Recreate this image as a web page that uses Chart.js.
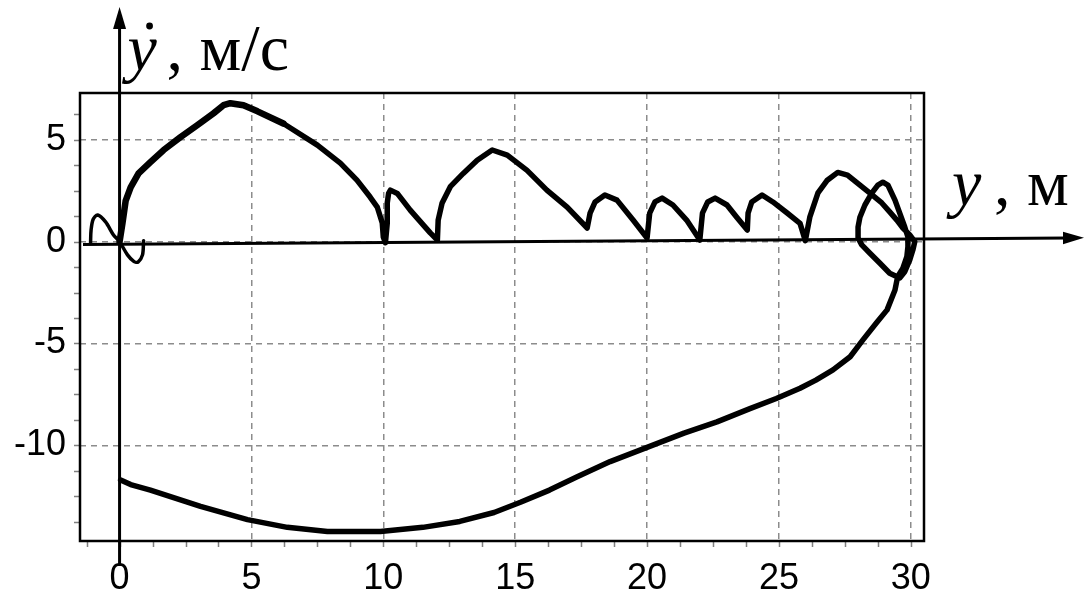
<!DOCTYPE html>
<html>
<head>
<meta charset="utf-8">
<script src="https://cdn.jsdelivr.net/npm/chart.js@4.4.1/dist/chart.umd.min.js"></script>
<style>
  body { margin: 0; background: #fff; }
  #wrap { width: 1089px; height: 600px; }
</style>
</head>
<body>
<div id="wrap"><canvas id="phaseChart"></canvas></div>
<script>
// phase trajectory: position y (m) and velocity dy/dt (m/s)
const pathY = [
    0, 0.11, 0.23, 0.42, 0.72, 1.17, 1.67, 2.31, 2.95, 3.56, 3.94, 4.2, 4.7, 5.23, 6.21, 7.5, 8.37, 9.0, 9.5, 9.77,
    9.96, 10.0, 10.08, 10.15, 10.15, 10.2, 10.27, 10.53, 11.02, 11.78,
    12.05, 12.08, 12.23, 12.54, 13.03, 13.56, 14.13, 14.7, 15.45, 16.2, 16.97,
    17.73, 17.84, 18.03, 18.4, 18.86, 19.47,
    20.0, 20.1, 20.3, 20.57, 20.98, 21.5,
    22.0, 22.1, 22.3, 22.58, 23.03, 23.4,
    23.8, 23.83, 23.97, 24.36, 24.77, 25.3, 25.8,
    26.0, 26.17, 26.48, 26.82, 27.23, 27.6, 28.45, 28.9, 29.2, 29.47, 29.7, 29.96, 30.15,
    30.08, 29.96, 29.77, 29.58, 29.2, 28.83, 28.45, 28.14, 28.0, 28.0, 28.07, 28.26, 28.52, 28.75, 28.94,
    29.13, 29.4, 29.58, 29.77, 29.89, 29.89, 29.85, 29.7, 29.5,
    29.4, 29.1, 28.7, 28.2, 27.7, 27.05, 26.4, 25.8, 24.9, 23.9, 22.65, 21.4, 20.0, 18.6, 17.35,
    16.3, 15.2, 14.2, 12.9, 11.5, 9.89, 7.88, 6.36, 4.85, 3.07, 1.17, 0.42, 0.04
];
const pathV = [
    0, 0.9, 2.0, 2.67, 3.35, 3.9, 4.5, 5.13, 5.72, 6.3, 6.7, 6.8, 6.7, 6.4, 5.8, 4.74, 3.86, 3.02, 2.19, 1.7,
    0.92, 0.23, -0.05, 0.92, 1.9, 2.37, 2.53, 2.37, 1.55, 0.43,
    0.08, 1.06, 1.9, 2.7, 3.35, 4.0, 4.5, 4.25, 3.5, 2.53, 1.7,
    0.67, 1.4, 1.95, 2.29, 2.04, 1.06,
    0.18, 1.4, 1.95, 2.14, 1.8, 1.06,
    0.08, 1.4, 1.95, 2.14, 1.8, 1.2,
    0.57, 1.4, 1.95, 2.29, 1.95, 1.42, 0.9,
    0.05, 1.2, 2.4, 3.0, 3.4, 3.27, 2.38, 1.9, 1.46, 1.06, 0.67, 0.33, 0,
    -0.4, -0.9, -1.48, -1.78, -1.55, -1.06, -0.57, -0.16, 0.18, 0.72, 1.2, 1.8, 2.38, 2.78, 2.92,
    2.78, 2.04, 1.4, 0.72, 0.23, -0.25, -0.74, -1.3, -1.72,
    -2.37, -3.35, -3.98, -4.8, -5.65, -6.3, -6.8, -7.2, -7.7, -8.2, -8.85, -9.4, -10.1, -10.8, -11.55,
    -12.2, -12.8, -13.3, -13.74, -14.03, -14.23, -14.23, -14.03, -13.65, -13.0, -12.2, -11.93, -11.7
];

// small oscillation around the origin
const wiggleY = [-1.1, -1.08, -1.0, -0.83, -0.53, -0.23, 0, 0.3, 0.55, 0.7, 0.87, 0.91];
const wiggleV = [-0.05, 0.57, 1.1, 1.31, 0.97, 0.33, 0, -0.65, -0.98, -1.0, -0.65, 0.05];

const xTicks = [0, 5, 10, 15, 20, 25, 30];
const yTicks = [-10, -5, 0, 5];

const toPoints = (xs, ys) => xs.map((v, i) => ({ x: v, y: ys[i] }));

// frame, minor tick marks, arrowed axes and axis titles
const phaseDecor = {
    id: 'phaseDecor',
    afterDraw(chart) {
        const { ctx, chartArea: a } = chart;
        const sx = chart.scales.x, sy = chart.scales.y;
        ctx.save();

        // tick marks every 1.25
        ctx.strokeStyle = '#808080';
        ctx.lineWidth = 1.5;
        ctx.beginPath();
        for (let k = Math.ceil(sx.min / 1.25); k * 1.25 <= sx.max; k++) {
            const px = Math.round(sx.getPixelForValue(k * 1.25)) + 0.5;
            ctx.moveTo(px, a.bottom);
            ctx.lineTo(px, a.bottom + 6);
        }
        for (let k = Math.ceil(sy.min / 1.25); k * 1.25 <= sy.max; k++) {
            const py = Math.round(sy.getPixelForValue(k * 1.25)) + 0.5;
            ctx.moveTo(a.left, py);
            ctx.lineTo(a.left - 6, py);
        }
        ctx.stroke();

        // frame
        ctx.strokeStyle = '#000';
        ctx.lineWidth = 2.5;
        ctx.strokeRect(a.left, a.top, a.right - a.left, a.bottom - a.top);

        // vertical axis with arrow
        const x0 = sx.getPixelForValue(0);
        const y0 = sy.getPixelForValue(0);
        ctx.lineWidth = 3;
        ctx.beginPath();
        ctx.moveTo(x0, 566);
        ctx.lineTo(x0, 24);
        ctx.stroke();
        ctx.fillStyle = '#000';
        ctx.beginPath();
        ctx.moveTo(x0, 7);
        ctx.lineTo(x0 - 6.5, 29);
        ctx.lineTo(x0 + 6.5, 29);
        ctx.closePath();
        ctx.fill();

        // horizontal axis with arrow (slightly tilted, as in the source)
        ctx.beginPath();
        ctx.moveTo(a.left + 3, y0 + 2.8);
        ctx.lineTo(1068, y0 - 3.6);
        ctx.stroke();
        ctx.beginPath();
        ctx.moveTo(1084, y0 - 3.8);
        ctx.lineTo(1063, y0 - 10);
        ctx.lineTo(1063, y0 + 2.5);
        ctx.closePath();
        ctx.fill();

        // axis titles
        ctx.fillStyle = '#000';
        ctx.textBaseline = 'alphabetic';
        ctx.textAlign = 'left';
        ctx.font = 'italic 66px "Liberation Serif"';
        ctx.fillText('y', x0 + 8, 70);
        ctx.beginPath();
        ctx.arc(x0 + 30, 26, 3.4, 0, Math.PI * 2);
        ctx.fill();
        ctx.font = '66px "Liberation Serif"';
        ctx.fillText(',', x0 + 47, 70);
        ctx.fillText('м/с', x0 + 80, 70);

        ctx.font = 'italic 66px "Liberation Serif"';
        ctx.fillText('y', 952, 205);
        ctx.font = '66px "Liberation Serif"';
        ctx.fillText(',', 994, 205);
        ctx.fillText('м', 1027, 205);

        ctx.restore();
    }
};

const ctxPhase = document.getElementById('phaseChart');

new Chart(ctxPhase, {
    type: 'scatter',
    data: {
        datasets: [
            {
                label: 'trajectory',
                data: toPoints(pathY, pathV),
                showLine: true,
                borderColor: '#000',
                borderWidth: 5.5,
                pointRadius: 0,
                tension: 0,
                borderJoinStyle: 'round',
                borderCapStyle: 'round',
                segment: {
                    borderWidth: ctx => ctx.p0DataIndex < 14 ? 6.5 : 5.5
                }
            },
            {
                label: 'oscillation',
                data: toPoints(wiggleY, wiggleV),
                showLine: true,
                borderColor: '#000',
                borderWidth: 3.5,
                pointRadius: 0,
                tension: 0.3,
                borderJoinStyle: 'round',
                borderCapStyle: 'round'
            }
        ]
    },
    plugins: [phaseDecor],
    options: {
        responsive: true,
        maintainAspectRatio: false,
        animation: false,
        layout: {
            padding: { top: 93, right: 165, left: 0, bottom: 0 }
        },
        plugins: {
            legend: { display: false },
            tooltip: { enabled: false }
        },
        scales: {
            x: {
                type: 'linear',
                min: -1.5,
                max: 30.5,
                afterBuildTicks: s => { s.ticks = xTicks.map(v => ({ value: v })); },
                afterFit: s => { s.height = 59; },
                ticks: {
                    color: '#000',
                    padding: 16,
                    maxRotation: 0,
                    autoSkip: false,
                    font: { family: 'Liberation Sans', size: 36 }
                },
                grid: { color: '#8c8c8c', lineWidth: 1.5, drawTicks: false },
                border: { display: false, dash: [6, 5] }
            },
            y: {
                type: 'linear',
                min: -14.7,
                max: 7.3,
                afterBuildTicks: s => { s.ticks = yTicks.map(v => ({ value: v })); },
                afterFit: s => { s.width = 80; },
                ticks: {
                    color: '#000',
                    padding: 14,
                    autoSkip: false,
                    font: { family: 'Liberation Sans', size: 36 }
                },
                grid: { color: '#8c8c8c', lineWidth: 1.5, drawTicks: false },
                border: { display: false, dash: [6, 5] }
            }
        }
    }
});
</script>
</body>
</html>
